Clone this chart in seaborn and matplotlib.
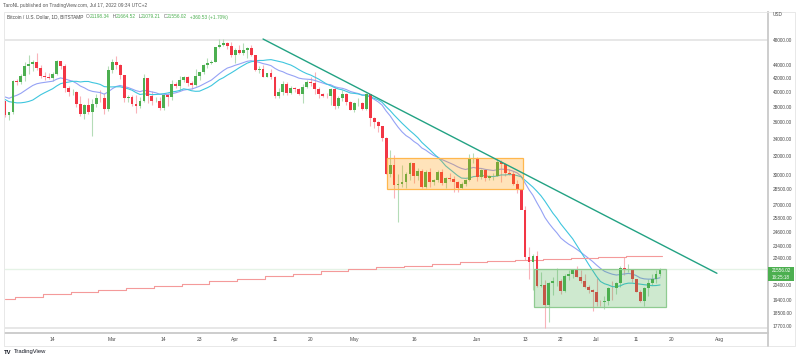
import numpy as np
import pandas as pd
import matplotlib
matplotlib.use("Agg")
import matplotlib.pyplot as plt
import seaborn as sns
from matplotlib.patches import Rectangle
from matplotlib.ticker import FixedLocator, FixedFormatter, NullLocator

# ── Data ──────────────────────────────────────────────────────────────────────

dates = pd.date_range("2022-02-02", "2022-07-17", freq="D")

opens = [
    38740, 36900, 37320, 41570, 41400, 42400, 43850, 44080, 44380, 43540, 42400, 42200, 42080, 42570,
    44560, 43900, 40550, 40000, 40100, 38400, 37050, 38280, 37270, 38350, 39230, 39140, 37720,
    43190, 44420, 43930, 42460, 39150, 39400, 38420, 38060, 38740, 41980, 39440, 38730, 38810, 37800,
    39670, 39280, 41120, 40920, 41760, 42230, 41260, 41000, 42370, 42890, 43960, 44330, 44520, 46820,
    47130, 47450, 47060,
    45530, 46280, 45810, 46400, 46620, 45500, 43170, 43450, 42250, 42760, 42160, 39530, 40080, 41150,
    39940, 40550, 40390, 39690, 40800, 41500, 41370, 40480, 39710, 39470, 39450, 40430, 38110, 39240,
    39740, 38600,
    37640, 38470, 38520, 37720, 39690, 36550, 36040, 35500, 34060, 30080, 31010, 28940, 29030, 29290,
    30080, 31300, 29860, 30420, 28700, 30300, 29200, 29430, 30290, 29100, 29650, 29540, 29200, 28630,
    29030, 29470, 31730,
    31790, 29800, 30450, 29700, 29860, 29900, 31370, 31130, 30200, 30110, 29090, 28420, 26570, 22480,
    22130, 22580, 20380, 20450, 19010, 20550, 20700, 20720, 19970, 21100, 21230, 21500, 21030, 20730,
    20280, 20100,
    19940, 19270, 19240, 19300, 20210, 20190, 20550, 21640, 21590, 21600, 20850, 19960, 19320, 20230,
    20580, 20830, 21198.34,
]
highs = [
    38850, 37390, 41770, 41950, 42650, 44500, 45500, 44800, 45850, 43950, 43000, 42750, 42900, 44750,
    44600, 44200, 40950, 40450, 40150, 39450, 38400, 39250, 39000, 39700, 40250, 39850, 43900,
    44950, 45400, 44100, 42550, 39650, 39650, 39550, 39400, 42600, 42000, 40200, 39400, 39300, 39900,
    39900, 41700, 41450, 42300, 42400, 42300, 41550, 43350, 42950, 44200, 45050, 44800, 46900, 48200,
    48100, 47700, 47600,
    46700, 47200, 47450, 46900, 47100, 45500, 43900, 43950, 42800, 43400, 42400, 40650, 41550, 41500,
    40850, 40700, 40600, 41100, 41750, 42150, 42950, 40800, 39950, 39900, 40600, 40800, 39450, 40350,
    39900, 38800,
    38650, 39150, 38650, 39950, 39800, 36650, 36150, 35500, 34250, 32650, 32150, 30050, 31000, 30300,
    31400, 31300, 30750, 30650, 30500, 30700, 29600, 30450, 30650, 29800, 30150, 29850, 29350, 29200,
    29550, 32200, 32400,
    31950, 30650, 30650, 29950, 30150, 31750, 31550, 31300, 30650, 30350, 29450, 28550, 26900, 23300,
    22750, 22950, 21350, 20750, 20650, 21000, 21700, 20850, 21200, 21500, 21550, 21850, 21500, 21200,
    20400, 20150,
    20900, 19400, 19650, 20300, 20700, 20650, 21800, 22500, 21950, 21600, 20850, 20050, 20250, 20850,
    21200, 21550, 21664.52,
]
lows = [
    36650, 36250, 37050, 40980, 41120, 41650, 42700, 43150, 43200, 42000, 41750, 41870, 41580, 42450,
    43350, 40100, 39470, 39650, 38050, 36800, 36400, 37100, 34330, 38050, 38600, 37050, 37450,
    42850, 43400, 41850, 38700, 38650, 38100, 37200, 37900, 38700, 38550, 38250, 38680, 37600, 37600,
    38150, 38900, 40550, 40150, 41400, 40950, 40500, 40900, 41750, 42600, 43600, 44100, 44400, 46650,
    46950, 46550, 45200,
    44250, 45650, 45550, 45150, 45400, 43100, 42750, 42150, 42150, 41900, 39250, 39250, 39600, 39600,
    39800, 40050, 39600, 38550, 40600, 40850, 39800, 39200, 39300, 39150, 38200, 37700, 37850, 38850,
    38200, 37600,
    37400, 38100, 37550, 37650, 35600, 35300, 34800, 33700, 30050, 29750, 27700, 25400, 28700, 28650,
    29500, 29150, 29450, 28650, 28650, 28750, 28950, 29250, 28900, 28650, 29300, 28250, 28250, 28550,
    28800, 29300, 31250,
    29350, 29600, 29300, 29450, 29500, 29900, 29250, 29900, 29950, 28900, 28100, 26600, 22300, 20850,
    20100, 20250, 20250, 17600, 17950, 19700, 20350, 19800, 19900, 20800, 20950, 21000, 20550, 20200,
    19850, 18650,
    18950, 18950, 18800, 19050, 19350, 19800, 20250, 21150, 21350, 20650, 19900, 19250, 18950, 19650,
    20400, 20550, 21079.21,
]
closes = opens[1:] + [21556.02]

# Moving averages as drawn on the chart (periwinkle = EMA 20, cyan = SMA 20)
ema20 = [
    39350, 39160, 39390, 39580, 39850, 40230, 40600, 40960, 41200, 41320, 41400, 41470, 41570, 41860,
    42050, 41910, 41730, 41570, 41270, 40870, 40620, 40300, 40120, 40030, 39950, 39730, 40060,
    40480, 40810, 40960, 40790, 40660, 40450, 40220, 40080, 40260, 40180, 40040, 39930, 39720, 39720,
    39680, 39810, 39920, 40090, 40300, 40390, 40450, 40630, 40850, 41140, 41450, 41740, 42220, 42690,
    43140, 43520, 43710,
    43950, 44130, 44350, 44560, 44650, 44510, 44410, 44200, 44070, 43890, 43470, 43150, 42960, 42670,
    42470, 42270, 42020, 41910, 41870, 41820, 41690, 41500, 41310, 41130, 41070, 40790, 40640, 40550,
    40370, 40110,
    39950, 39820, 39620, 39620, 39330, 39020, 38680, 38240, 37470, 36850, 36100, 35420, 34840, 34390,
    34090, 33690, 33380, 32930, 32680, 32350, 32070, 31900, 31640, 31450, 31270, 31070, 30840, 30660,
    30550, 30660, 30770,
    30680, 30660, 30560, 30500, 30440, 30530, 30590, 30550, 30510, 30370, 30190, 29840, 29140, 28470,
    27910, 27200, 26550, 25840, 25330, 24890, 24500, 24060, 23780, 23540, 23350, 23130, 22900, 22650,
    22410, 22170,
    21890, 21640, 21420, 21300, 21200, 21140, 21180, 21220, 21260, 21220, 21100, 20930, 20860, 20840,
    20840, 20870, 20940,
]
sma20 = [
    39000, 38710, 38630, 38540, 38550, 38620, 38740, 38930, 39280, 39650, 39940, 40210, 40490, 40880,
    41210, 41350, 41440, 41550, 41550, 41460, 41530, 41530, 41370, 41260, 41100, 40790, 40750,
    40750, 40770, 40770, 40620, 40480, 40280, 39950, 39690, 39770, 39740, 39670, 39690, 39730, 39800,
    39900, 40040, 40120, 40250, 40480, 40380, 40210, 40130, 40150, 40390, 40640, 40940, 41380, 41800,
    42080, 42460, 42800,
    43170, 43570, 43910, 44270, 44490, 44610, 44690, 44690, 44770, 44820, 44680, 44540, 44400, 44180,
    43980, 43660, 43290, 42960, 42680, 42470, 42180, 41880, 41530, 41170, 40920, 40660, 40450, 40330,
    40120, 39890,
    39840, 39760, 39590, 39580, 39380, 39160, 38950, 38620, 38040, 37530, 36950, 36420, 35910, 35440,
    34980, 34570, 34130, 33580, 33160, 32740, 32290, 31880, 31440, 30940, 30590, 30250, 29910, 29650,
    29620, 29660, 29800,
    29840, 29900, 29880, 29810, 29810, 29860, 29980, 29970, 30020, 30000, 29910, 29780, 29420, 29050,
    28720, 28310, 27880, 27360, 26800, 26240, 25790, 25270, 24840, 24410, 23990, 23470, 22950, 22450,
    21950, 21490,
    21040, 20670, 20510, 20420, 20300, 20300, 20360, 20490, 20550, 20550, 20510, 20480, 20440, 20410,
    20370, 20380, 20420,
]

# 200-week MA: one level per week, the first level holds from the first candle
wma_steps = pd.date_range("2022-02-04 12:00", periods=25, freq="7D")
wma200 = [19445, 19600, 19765, 19925, 20085, 20225, 20365, 20510, 20725, 20870, 21070, 21240,
          21415, 21565, 21715, 21840, 21945, 22100, 22200, 22300, 22380, 22450, 22520, 22580,
          22630, 22680]

# Drawings
trend_dates = pd.to_datetime(["2022-04-08 00:00", "2022-07-31 08:00"])
trend_prices = [48160, 21270]
orange_box = (pd.Timestamp("2022-05-09 05:00"), pd.Timestamp("2022-06-12 12:00"), 28540, 31800)
green_box = (pd.Timestamp("2022-06-15 07:00"), pd.Timestamp("2022-07-18 12:00"), 18910, 21590)
hlines = [48000, 17600]
last_price = 21556.02

yticks = [48000, 44000, 42000, 40000, 38000, 36000, 34000, 32000, 30000, 28500, 27000,
          25800, 24600, 23400, 22400, 20400, 19400, 18500, 17700]
xtick_dates = pd.to_datetime(["2022-02-14", "2022-03-01", "2022-03-14", "2022-03-23", "2022-04-01",
                              "2022-04-11", "2022-04-20", "2022-05-01", "2022-05-16", "2022-06-01",
                              "2022-06-13", "2022-06-22", "2022-07-01", "2022-07-11", "2022-07-20",
                              "2022-08-01"])
xtick_labels = ["14", "Mar", "14", "23", "Apr", "11", "20", "May", "16", "Jun", "13", "22",
                "Jul", "11", "20", "Aug"]

# ── Style ─────────────────────────────────────────────────────────────────────

GREEN = "#4caf50"
RED = "#f23645"
TXT = "#4a4a4a"

sns.set_theme(style="white")
plt.rcParams["font.family"] = ["Liberation Sans", "DejaVu Sans"]

W, H = 800, 361
fig = plt.figure(figsize=(W / 100, H / 100), dpi=100)
fig.patch.set_facecolor("white")


def fx(px):
    return px / W


def fy(py):
    return 1 - py / H


ax = fig.add_axes([fx(4.5), fy(333), (768 - 4.5) / W, (333 - 12) / H])
ax.set_facecolor("white")

# ── Candles ───────────────────────────────────────────────────────────────────

o = np.array(opens, dtype=float)
c = np.array(closes, dtype=float)
up = c >= o
body_col = np.where(up, GREEN, RED)
wick_col = np.where(up, "#b5dcb7", "#f9b3b9")

ax.vlines(dates, lows, highs, colors=wick_col, lw=0.8, zorder=2)
body_h = np.maximum(np.abs(c - o), c * 0.0015)
ax.bar(dates, body_h, bottom=np.minimum(o, c), width=0.72, color=body_col,
       linewidth=0, zorder=4)

# ── Indicators ────────────────────────────────────────────────────────────────

ma = pd.DataFrame({"date": dates, "ema": ema20, "sma": sma20})
sns.lineplot(data=ma, x="date", y="ema", ax=ax, color="#95a2f5", lw=0.8, zorder=3)
sns.lineplot(data=ma, x="date", y="sma", ax=ax, color="#3fc6de", lw=0.8, zorder=3)

end = dates[-1] + pd.Timedelta(hours=12)
keep = [d for d in wma_steps if d < end]
wx = [dates[0]] + keep + [end]
wy = wma200[:len(keep) + 1]
wy = wy + [wy[-1]]
ax.plot(wx, wy, drawstyle="steps-post", color="#f49a9a", lw=0.8, zorder=3)

# ── Drawings ──────────────────────────────────────────────────────────────────

for x0, x1, y0, y1, fc, ec in [(*orange_box, "#ff9800", "#ffb74d"),
                               (*green_box, "#4caf50", "#8fcb91")]:
    ax.add_patch(Rectangle((x0, y0), x1 - x0, y1 - y0, facecolor=fc, alpha=0.27,
                           edgecolor="none", zorder=5))
    ax.add_patch(Rectangle((x0, y0), x1 - x0, y1 - y0, facecolor="none",
                           edgecolor=ec, lw=0.9, zorder=5))

ax.plot(trend_dates, trend_prices, color="#22a283", lw=1.0, zorder=6)

for v in hlines:
    ax.axhline(v, color="#e3e3e3", lw=1.2, zorder=1)
ax.axhline(last_price, color=GREEN, alpha=0.14, lw=1.0, zorder=1)

# ── Axes ──────────────────────────────────────────────────────────────────────

ax.set_yscale("log")
ax.set_ylim(17270, 52920)
ax.set_xlim(dates[0] - pd.Timedelta(days=0.13), dates[0] + pd.Timedelta(days=192.2))

ax.yaxis.tick_right()
ax.yaxis.set_major_locator(FixedLocator(yticks))
ax.yaxis.set_major_formatter(FixedFormatter([f"{v:.2f}" for v in yticks]))
ax.yaxis.set_minor_locator(NullLocator())
ax.set_xticks(xtick_dates)
ax.set_xticklabels(xtick_labels)
ax.tick_params(axis="y", length=0, pad=3.2, labelsize=3.4, labelcolor=TXT)
ax.tick_params(axis="x", length=0, pad=3.0, labelsize=3.6, labelcolor=TXT)
ax.set_xlabel("")
ax.set_ylabel("")
ax.grid(False)

for side in ["top", "left"]:
    ax.spines[side].set_visible(False)
for side in ["right", "bottom"]:
    ax.spines[side].set_color("#c9c9c9")
    ax.spines[side].set_linewidth(1.3)

# outer frame, axis extension
fig.add_artist(Rectangle((fx(4), fy(346)), fx(795) - fx(4), fy(12) - fy(346),
                         transform=fig.transFigure, fill=False, ec="#e4e4e4", lw=0.6))
fig.add_artist(plt.Line2D([fx(768), fx(768)], [fy(346), fy(333)], transform=fig.transFigure,
                          color="#c9c9c9", lw=1.3))

# last price label
fig.add_artist(Rectangle((fx(768), fy(281)), fx(794) - fx(768), fy(267) - fy(281),
                         transform=fig.transFigure, fc=GREEN, ec="none"))
fig.text(fx(781), fy(271), f"{last_price:.2f}", color="white", fontsize=3.3,
         ha="center", va="center")
fig.text(fx(781), fy(277.5), "16:25:18", color="white", fontsize=3.3,
         ha="center", va="center")
fig.text(fx(773), fy(15), "USD", color=TXT, fontsize=3.4, ha="left", va="center")

# ── Header / footer text ──────────────────────────────────────────────────────

fig.text(fx(3), fy(5), "TaroNL published on TradingView.com, Jul 17, 2022 09:34 UTC+2",
         color="#555555", fontsize=3.5, ha="left", va="center")

pieces = [("Bitcoin / U.S. Dollar, 1D, BITSTAMP  ", "#444444"),
          ("O", "#666666"), ("21198.34", GREEN),
          ("  H", "#666666"), ("21664.52", GREEN),
          ("  L", "#666666"), ("21079.21", GREEN),
          ("  C", "#666666"), ("21556.02", GREEN),
          ("  +360.53 (+1.70%)", GREEN)]
renderer = fig.canvas.get_renderer()
xpos = fx(7)
for s, col in pieces:
    t = fig.text(xpos, fy(17), s, color=col, fontsize=3.4, ha="left", va="center")
    bb = t.get_window_extent(renderer=renderer)
    xpos += bb.width / W

fig.text(fx(4), fy(352), "TV", color="#131722", fontsize=4.2, fontweight="bold",
         ha="left", va="center")
fig.text(fx(14), fy(352), "TradingView", color="#131722", fontsize=4.2,
         ha="left", va="center")

fig.savefig("out.png", dpi=100, facecolor="white")
